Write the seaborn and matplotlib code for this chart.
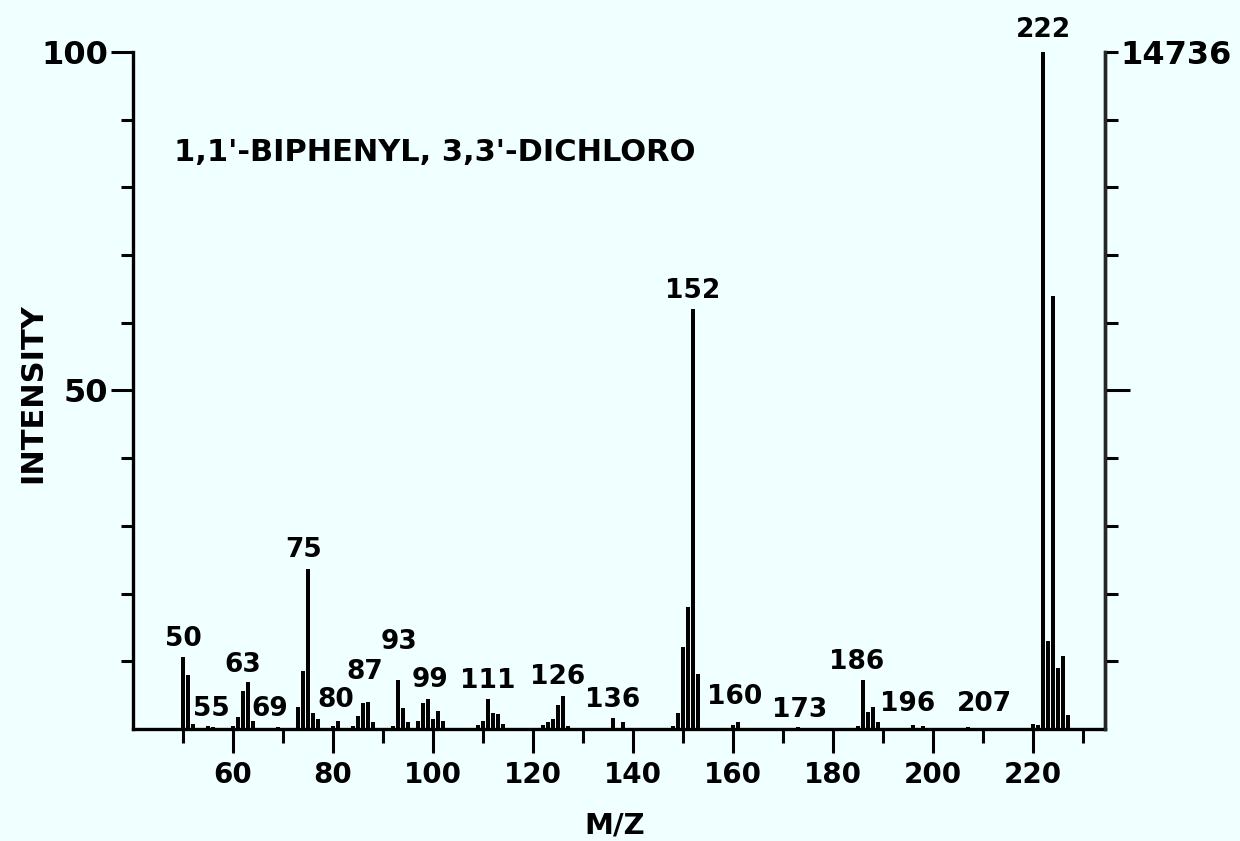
import matplotlib
matplotlib.use("Agg")
import matplotlib.pyplot as plt
import seaborn as sns
import pandas as pd
from matplotlib.ticker import FixedLocator, FixedFormatter

# ---- data (m/z, relative intensity %) ----
mz = [50, 51, 52, 55, 56, 60, 61, 62, 63, 64, 69, 73, 74, 75, 76, 77,
      80, 81, 84, 85, 86, 87, 88, 92, 93, 94, 95, 97, 98, 99, 100, 101, 102,
      109, 110, 111, 112, 113, 114, 122, 123, 124, 125, 126, 127, 136, 138,
      148, 149, 150, 151, 152, 153, 160, 161, 173, 185, 186, 187, 188, 189,
      196, 198, 207, 220, 221, 222, 223, 224, 225, 226, 227]
intensity = [10.6, 8.0, 0.8, 0.4, 0.3, 0.5, 1.8, 5.6, 7.0, 1.2, 0.3, 3.2, 8.6, 23.6, 2.4, 1.5,
             0.4, 1.2, 0.5, 1.9, 3.8, 4.0, 1.0, 0.5, 7.2, 3.1, 1.0, 1.2, 3.8, 4.5, 1.5, 2.7, 1.2,
             0.6, 1.2, 4.5, 2.4, 2.2, 0.8, 0.6, 1.0, 1.5, 3.6, 4.8, 0.5, 1.6, 1.0,
             0.5, 2.4, 12.1, 18.0, 62.0, 8.1, 0.6, 1.0, 0.3, 0.4, 7.2, 2.5, 3.3, 1.0,
             0.6, 0.4, 0.3, 0.8, 0.6, 100.0, 13.0, 64.0, 9.0, 10.8, 2.0]

peak_labels = ["50", "55", "63", "69", "75", "80", "87", "93", "99", "111", "126",
               "136", "152", "160", "173", "186", "196", "207", "222"]
title_text = "1,1'-BIPHENYL, 3,3'-DICHLORO"
x_major = [60, 80, 100, 120, 140, 160, 180, 200, 220]
x_minor = [50, 70, 90, 110, 130, 150, 170, 190, 210, 230]
y_major = [50, 100]
y_minor = [10, 20, 30, 40, 60, 70, 80, 90]
right_max_label = "14736"

# label placement (data coordinates, text centres)
label_pos = {
    "50": (50.0, 13.3), "55": (55.6, 3.0), "63": (62.0, 9.5), "69": (67.4, 3.0),
    "75": (74.2, 26.4), "80": (80.6, 4.3), "87": (86.4, 8.4), "93": (93.2, 12.9),
    "99": (99.4, 7.2), "111": (111.0, 7.1), "126": (125.0, 7.7), "136": (136.0, 4.3),
    "152": (152.0, 64.7), "160": (160.4, 4.7), "173": (173.4, 2.8), "186": (184.8, 9.9),
    "196": (195.0, 3.7), "207": (210.2, 3.7), "222": (222.0, 103.2),
}

bg = "#F0FFFF"
sns.set_style("white")
plt.rcParams["font.family"] = ["DejaVu Sans"]
plt.rcParams["text.color"] = "black"
plt.rcParams["xtick.color"] = "black"
plt.rcParams["ytick.color"] = "black"
plt.rcParams["axes.labelcolor"] = "black"

fig = plt.figure(figsize=(12.4, 8.41), dpi=100, facecolor=bg)
ax = fig.add_axes([0.1073, 0.1332, 0.7839, 0.8050])
ax.set_facecolor(bg)

df = pd.DataFrame({"mz": mz, "intensity": intensity})
sns.barplot(data=df, x="mz", y="intensity", native_scale=True, width=0.85,
            color="black", edgecolor="none", linewidth=0, saturation=1, ax=ax,
            errorbar=None)
ax.set_xlabel("")
ax.set_ylabel("")

ax.set_xlim(40.0, 234.4)
ax.set_ylim(0, 100)

ax.spines["top"].set_visible(False)
for s in ["left", "bottom", "right"]:
    ax.spines[s].set_visible(True)
    ax.spines[s].set_linewidth(2.4)
    ax.spines[s].set_color("black")

# bottom ticks
ax.xaxis.set_major_locator(FixedLocator(x_major))
ax.xaxis.set_major_formatter(FixedFormatter([str(v) for v in x_major]))
ax.xaxis.set_minor_locator(FixedLocator(x_minor))
ax.tick_params(axis="x", which="major", direction="out", length=17, width=2.2,
               labelsize=20, pad=6, bottom=True)
ax.tick_params(axis="x", which="minor", direction="out", length=10, width=2.2, bottom=True)

# left ticks
ax.yaxis.set_major_locator(FixedLocator(y_major))
ax.yaxis.set_major_formatter(FixedFormatter([str(v) for v in y_major]))
ax.yaxis.set_minor_locator(FixedLocator(y_minor))
ax.tick_params(axis="y", which="major", direction="out", length=16, width=2.2,
               labelsize=23, pad=2, left=True)
ax.tick_params(axis="y", which="minor", direction="out", length=9, width=2.2, left=True)

# right axis
ax2 = ax.twinx()
ax2.set_ylim(0, 100)
ax2.set_ylabel("")
for s in ["top", "left", "bottom"]:
    ax2.spines[s].set_visible(False)
ax2.spines["right"].set_linewidth(2.4)
ax2.yaxis.set_major_locator(FixedLocator([50]))
ax2.yaxis.set_major_formatter(FixedFormatter([""]))
ax2.yaxis.set_minor_locator(FixedLocator(y_minor + [100]))
ax2.yaxis.set_minor_formatter(FixedFormatter([""] * len(y_minor) + [right_max_label]))
ax2.tick_params(axis="y", which="major", direction="out", length=18, width=2.2, right=True)
ax2.tick_params(axis="y", which="minor", direction="out", length=9, width=2.2, right=True,
                labelsize=23, pad=2, labelright=True)

for t in ax.get_xticklabels() + ax.get_yticklabels() + ax2.get_yticklabels(which="minor"):
    t.set_fontweight("bold")

fig.text(615 / 1240, 1 - 826 / 841, "M/Z", ha="center", va="center",
         fontsize=21, fontweight="bold")
fig.text(33 / 1240, 1 - 393 / 841, "INTENSITY", ha="center", va="center",
         rotation=90, fontsize=22, fontweight="bold")

for lab in peak_labels:
    x, y = label_pos[lab]
    ax.text(x, y, lab, ha="center", va="center", fontsize=19, fontweight="bold",
            clip_on=False)

ax.text(48.2, 85.2, title_text, ha="left", va="center", fontsize=22, fontweight="bold")

fig.savefig("out.png", dpi=100, facecolor=bg)
